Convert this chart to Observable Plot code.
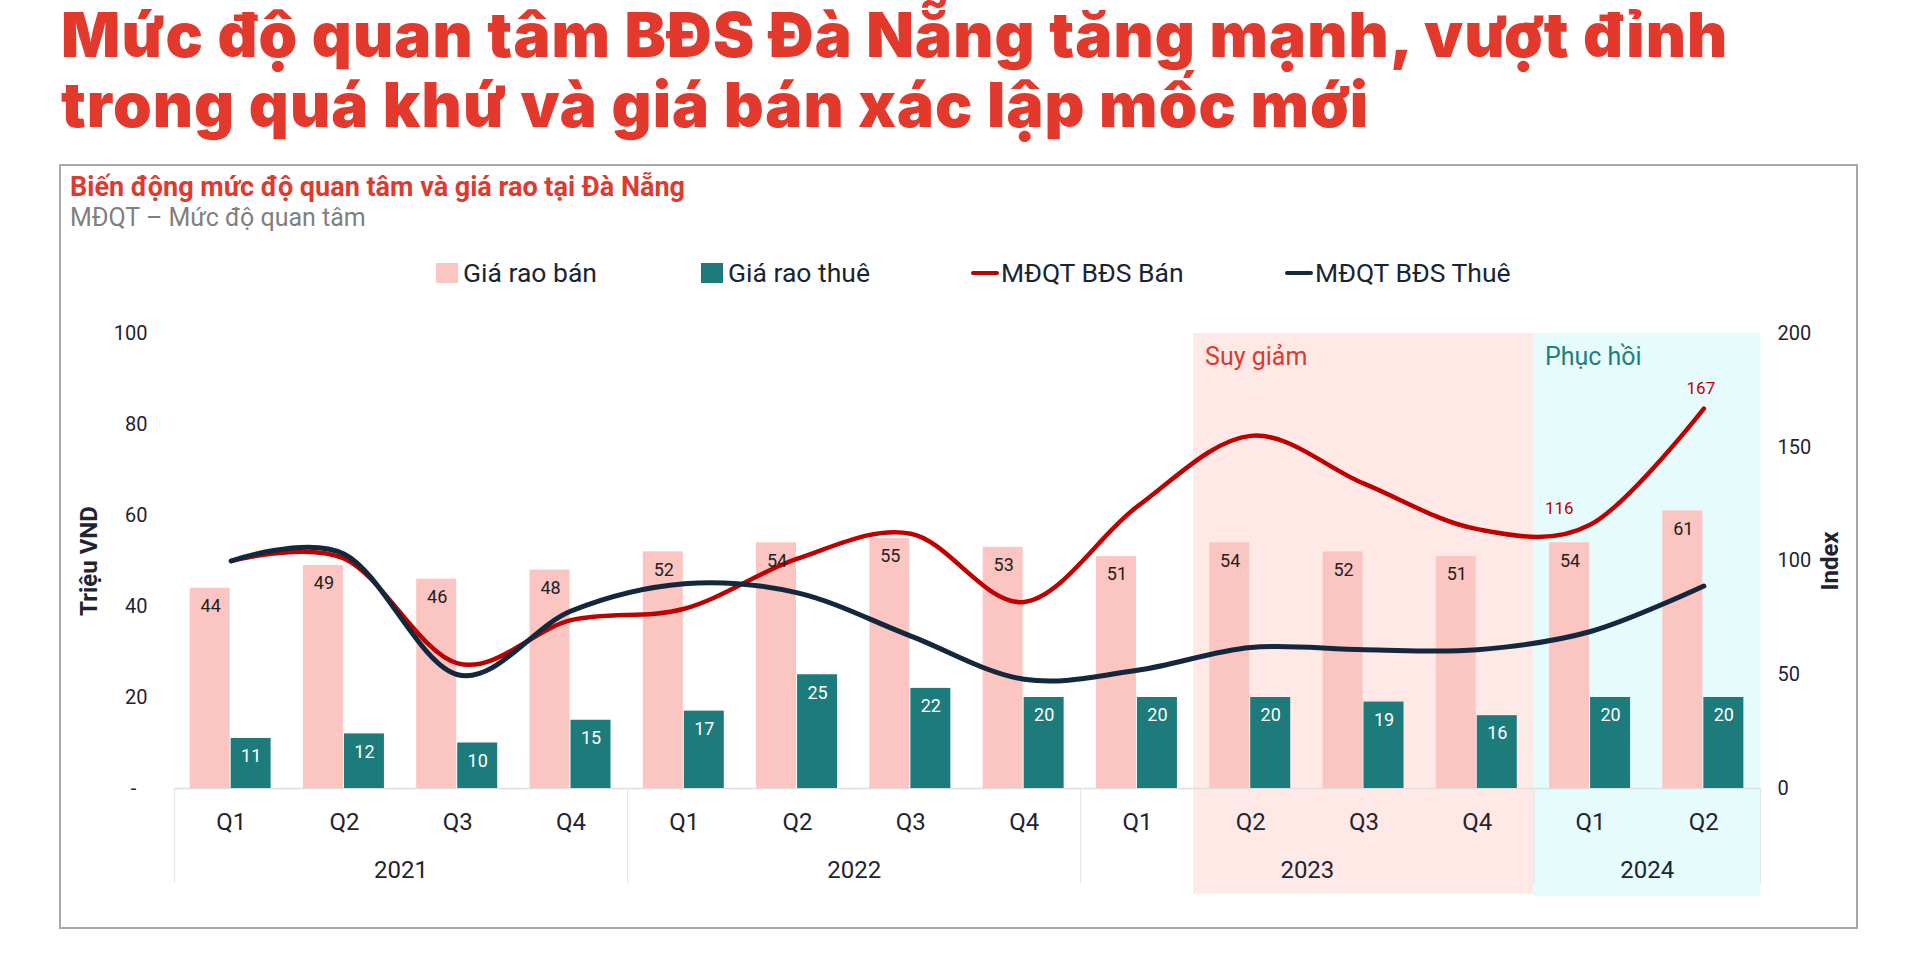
<!DOCTYPE html>
<html><head><meta charset="utf-8">
<script src="https://cdn.jsdelivr.net/npm/d3@7"></script>
<script src="https://cdn.jsdelivr.net/npm/@observablehq/plot@0.6"></script>
<style>
html,body{margin:0;padding:0}
body{width:1920px;height:961px;overflow:hidden;background:#fff;font-family:Roboto,sans-serif;position:relative}
.abs{position:absolute;white-space:nowrap}
#title{left:61px;top:0;font:900 62px/70px Inter,sans-serif;letter-spacing:1.1px;color:#e3392c}
#box{left:59px;top:164px;width:1799px;height:765px;border:2px solid #a8a8a8;box-sizing:border-box}
#ctitle{left:70px;top:173px;font:bold 27px/28px Roboto,sans-serif;color:#e03a2f}
#csub{left:70px;top:204px;font:25px/28px Roboto,sans-serif;color:#808080}
.lg{font:26.5px/28px Roboto,sans-serif;color:#1a2533;top:259px}
#chart{position:absolute;left:0;top:300px}
</style></head>
<body>
<div id="title" class="abs">Mức độ quan tâm BĐS Đà Nẵng tăng mạnh, vượt đỉnh<br>trong quá khứ và giá bán xác lập mốc mới</div>
<div id="box" class="abs"></div>
<div id="ctitle" class="abs">Biến động mức độ quan tâm và giá rao tại Đà Nẵng</div>
<div id="csub" class="abs">MĐQT – Mức độ quan tâm</div>
<div id="legend"></div>
<div id="chart"></div>
<script>
// ---- data ----
const periods = ["2021 Q1","2021 Q2","2021 Q3","2021 Q4","2022 Q1","2022 Q2","2022 Q3","2022 Q4","2023 Q1","2023 Q2","2023 Q3","2023 Q4","2024 Q1","2024 Q2"];
const quarters = ["Q1","Q2","Q3","Q4","Q1","Q2","Q3","Q4","Q1","Q2","Q3","Q4","Q1","Q2"];
const years = ["2021","2022","2023","2024"];
const yearAnchors = ["2021 Q2","2022 Q2","2023 Q2","2024 Q1"];
const yearStarts = ["2021 Q1","2022 Q1","2023 Q1","2024 Q1"];
const giaRaoBan = [44,49,46,48,52,54,55,53,51,54,52,51,54,61];
const giaRaoThue = [11,12,10,15,17,25,22,20,20,20,19,16,20,20];
const mdqtBan = [100,101,55,74,79,101,112,82,124,155,134,114,116,167];
const mdqtThue = [100,103,50,78,90,86,67,48,52,62,61,61,69,89];
const leftTicks = [0,20,40,60,80,100];
const rightTicks = [0,50,100,150,200];
const suyGiam = ["2023 Q2","2023 Q3","2023 Q4"];
const phucHoi = ["2024 Q1","2024 Q2"];
const phaseLabels = [{name:"Suy giảm", key:"2023 Q2", color:"#dc3a30"}, {name:"Phục hồi", key:"2024 Q1", color:"#1f7f7d"}];
const annotated = [{key:"2024 Q1", v:116}, {key:"2024 Q2", v:167}];
const legendNames = ["Giá rao bán","Giá rao thuê","MĐQT BĐS Bán","MĐQT BĐS Thuê"];
const colors = {ban:"#fbc5c1", thue:"#1d7b7c", mBan:"#c00000", mThue:"#13283c"};

// ---- legend (HTML) ----
const lg = document.getElementById("legend");
const lgItems = [
  {name:legendNames[0], color:colors.ban, kind:"sq", x:436},
  {name:legendNames[1], color:colors.thue, kind:"sq", x:701},
  {name:legendNames[2], color:colors.mBan, kind:"ln", x:971},
  {name:legendNames[3], color:colors.mThue, kind:"ln", x:1285}
];
for (const it of lgItems) {
  const s = document.createElement("div");
  s.className = "abs";
  s.style.left = it.x + "px";
  s.style.background = it.color;
  if (it.kind === "sq") { s.style.top = "263px"; s.style.width = "22px"; s.style.height = "20px"; }
  else { s.style.top = "271px"; s.style.width = "28px"; s.style.height = "4px"; s.style.borderRadius = "2px"; }
  lg.appendChild(s);
  const t = document.createElement("div");
  t.className = "abs lg";
  t.style.left = (it.x + (it.kind === "sq" ? 27 : 30)) + "px";
  t.textContent = it.name;
  lg.appendChild(t);
}

// ---- chart ----
const rows = periods.map((k,i)=>({key:k, q:quarters[i], ban:giaRaoBan[i], thue:giaRaoThue[i], mBan:mdqtBan[i], mThue:mdqtThue[i]}));
const yMax = leftTicks[leftTicks.length-1];
const ratio = rightTicks[rightTicks.length-1] / yMax;
const W = 1920, H = 610, mL = 174, mR = 160, mT = 33, mB = 122;
const bw = (W - mL - mR) / periods.length;
const yearRows = years.map((y,i)=>({year:y, anchor:yearAnchors[i]}));
const fg = "#1f2430";

const chart = Plot.plot({
  width: W, height: H,
  marginLeft: mL, marginRight: mR, marginTop: mT, marginBottom: mB,
  x: {type:"band", domain: periods, padding: 0, round: false, axis: null},
  y: {domain: [0, yMax], axis: null},
  style: {background:"transparent", fontFamily:"Roboto, sans-serif", overflow:"visible", maxWidth:"none"},
  marks: [
    Plot.barY(suyGiam, {x: d=>d, y1: 0, y2: yMax, fill:"#fee9e7", insetLeft:-0.5, insetRight:-0.5, insetBottom:-106}),
    Plot.barY(phucHoi, {x: d=>d, y1: 0, y2: yMax, fill:"#e5fbfc", insetLeft:-0.5, insetRight:-0.5, insetBottom:-108}),
    Plot.ruleY([0], {stroke:"#dedede", strokeWidth:1.5}),
    Plot.ruleX(yearStarts, {x: d=>d, y1:0, y2:0, dx: -bw/2, insetBottom:-95, stroke:"#e2e2e2"}),
    Plot.ruleX([periods[periods.length-1]], {x: d=>d, y1:0, y2:0, dx: bw/2, insetBottom:-95, stroke:"#e2e2e2"}),
    Plot.barY(rows, {x:"key", y:"ban", fill:colors.ban, insetLeft: bw/2 - 41, insetRight: bw/2 + 1}),
    Plot.barY(rows, {x:"key", y:"thue", fill:colors.thue, insetLeft: bw/2, insetRight: bw/2 - 40}),
    Plot.line(rows, {x:"key", y: d=>d.mBan/ratio, stroke:colors.mBan, strokeWidth:4.5, curve:"cardinal"}),
    Plot.line(rows, {x:"key", y: d=>d.mThue/ratio, stroke:colors.mThue, strokeWidth:5, curve:"cardinal"}),
    Plot.text(rows, {x:"key", y:"ban", text: d=>String(d.ban), dx:-20.5, dy:18, fontSize:18, fill:"#222"}),
    Plot.text(rows, {x:"key", y:"thue", text: d=>String(d.thue), dx:20, dy:18, fontSize:18, fill:"#fff"}),
    Plot.text([annotated[1]], {x:"key", y: d=>d.v/ratio, text: d=>String(d.v), dx:-3, dy:-20, fontSize:17, fill:"#c00000"}),
    Plot.text([annotated[0]], {x:"key", y: d=>d.v/ratio, text: d=>String(d.v), textAnchor:"end", dx:-17, dy:-16, fontSize:17, fill:"#c00000"}),
    Plot.text(phaseLabels, {x:"key", y: () => yMax, text:"name", fill:"color", textAnchor:"start", dx: -bw/2 + 11, dy: 23, fontSize:25}),
    Plot.text(rows, {x:"key", y:0, text:"q", dy:34, fontSize:24, fill:fg}),
    Plot.text(yearRows, {x:"anchor", y:0, text:"year", dx: bw/2, dy:82, fontSize:24, fill:fg}),
    Plot.axisY(leftTicks, {anchor:"left", tickSize:0, tickPadding:27, fontSize:20, fill:fg, label:null, tickFormat: d => d === 0 ? "-\u2007" : String(d)}),
    Plot.axisY(rightTicks.map(v=>v/ratio), {anchor:"right", tickSize:0, tickPadding:17, fontSize:20, fill:fg, label:null, tickFormat: d => String(d*ratio)}),
    Plot.text(["Triệu VND"], {frameAnchor:"left", text:d=>d, rotate:-90, textAnchor:"middle", dx:-85, fontSize:24, fontWeight:"bold", fill:fg}),
    Plot.text(["Index"], {frameAnchor:"right", text:d=>d, rotate:-90, textAnchor:"middle", dx:70, fontSize:24, fontWeight:"bold", fill:fg})
  ]
});
document.getElementById("chart").appendChild(chart);
</script>
</body></html>
